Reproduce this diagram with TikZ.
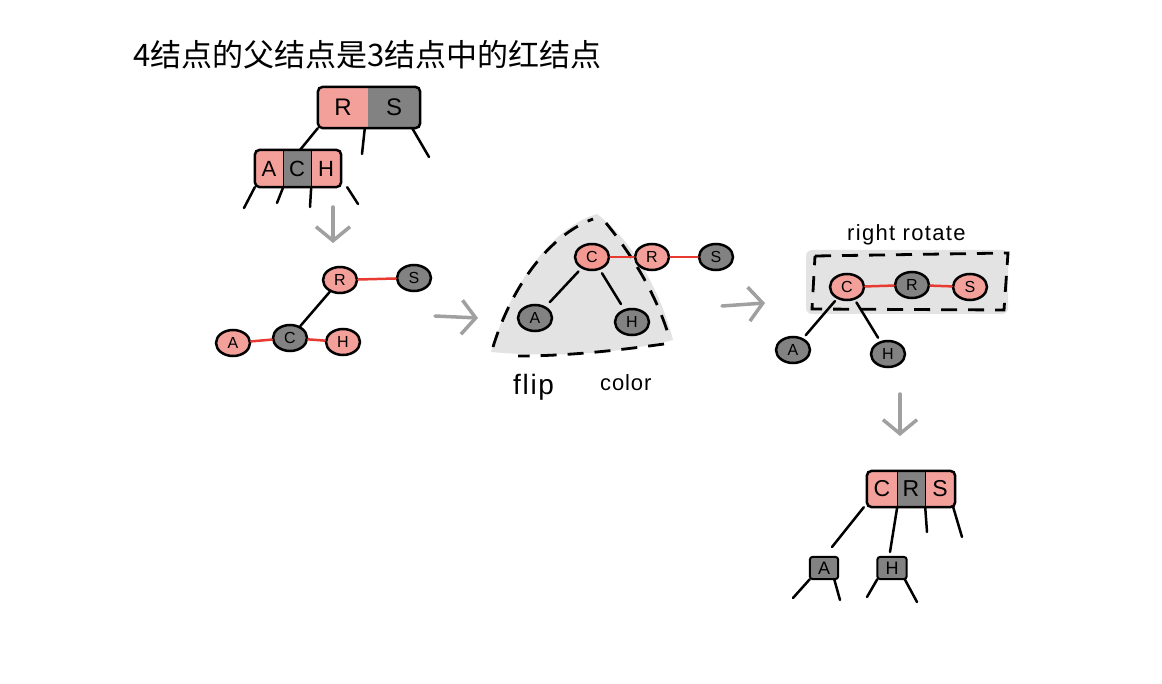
\documentclass[tikz,border=0pt]{standalone}
\usepackage{fontspec}
\setmainfont{Liberation Sans}
\newfontfamily\cjk{Noto Sans CJK SC}
\usetikzlibrary{shapes.geometric,arrows.meta}
\definecolor{pk}{RGB}{243,160,154}
\definecolor{gy}{RGB}{130,130,130}
\definecolor{rl}{RGB}{232,58,48}
\definecolor{bgshade}{RGB}{227,227,227}
\definecolor{ag}{RGB}{160,160,160}
\begin{document}
\begin{tikzpicture}[x=1pt,y=-1pt,
  cellp/.style={rectangle,fill=pk,inner sep=0pt,font=\fontsize{22}{22}\selectfont},
  cellg/.style={cellp,fill=gy},
  bx/.style={draw=black,line width=2.5pt,rounded corners=5pt},
  ep/.style={ellipse,draw=black,line width=2.5pt,fill=pk,minimum width=34pt,minimum height=26pt,inner sep=0pt,font=\fontsize{16}{16}\selectfont},
  eg/.style={ep,fill=gy},
  bl/.style={draw=black,line width=2.5pt,line cap=round},
  rd/.style={draw=rl,line width=2.5pt,line cap=round},
  garrow/.style={draw=ag,line width=3.5pt,line cap=round,-{Straight Barb[length=14pt,width=34pt]}},
  dsh/.style={draw=black,line width=2.8pt,dash pattern=on 16pt off 11pt},
  hand/.style={inner sep=0pt,anchor=west}]
\useasboundingbox (0,0) rectangle (1162,684);
\fill[white] (0,0) rectangle (1162,684);

% title
\node[anchor=west,inner sep=0pt] (title) at (133,55) {\cjk\fontsize{31}{34}\selectfont 4结点的父结点是3结点中的红结点};

% ---- top-left 2-3-4 tree ----
\node[cellp,minimum width=50pt,minimum height=41pt,font=\fontsize{24}{24}\selectfont] (tR) at (343,107.5) {R};
\node[cellg,minimum width=52pt,minimum height=41pt,font=\fontsize{24}{24}\selectfont] (tS) at (394,107.5) {S};
\draw[bx] (tR.north west) -- (tR.south west) -- (tS.south east) -- (tS.north east) -- cycle;
\node[cellp,minimum width=28pt,minimum height=37pt] (tA) at (269,168.5) {A};
\node[cellg,minimum width=28pt,minimum height=37pt] (tC) at (297,168.5) {C};
\node[cellp,minimum width=30pt,minimum height=37pt] (tH) at (326,168.5) {H};
\draw[bx] (tA.north west) rectangle (tH.south east);
\draw[line width=1pt] (tA.north east) -- (tA.south east);
\draw[line width=1pt] (tC.north east) -- (tC.south east);
\coordinate (l1a) at (300,150); \coordinate (l2) at (362,154); \coordinate (l3) at (429,157);
\draw[bl] (tR.south west) -- (l1a);
\draw[bl] ([xshift=-3pt]tS.south west) -- (l2);
\draw[bl] ([xshift=-8pt]tS.south east) -- (l3);
\coordinate (b1) at (244,208); \coordinate (b2) at (277,203); \coordinate (b3) at (310,207); \coordinate (b4) at (358,204);
\draw[bl] (tA.south west) -- (b1);
\draw[bl] (tA.south east) -- (b2);
\draw[bl] (tC.south east) -- (b3);
\draw[bl] ([xshift=6pt]tH.south east) -- (b4);

% arrow down
\coordinate (d1s) at (333,207); \coordinate (d1e) at (333,243);
\draw[garrow] (d1s) -- (d1e);

% ---- red-black tree ----
\node[ep] (R1) at (340,280) {R};
\node[eg] (S1) at (414,278) {S};
\node[eg] (C1) at (290,338) {C};
\node[ep] (A1) at (233,343) {A};
\node[ep] (H1) at (343,342) {H};
\draw[rd] (R1) -- (S1);
\draw[bl] (R1) -- (C1);
\draw[rd] (A1) -- (C1);
\draw[rd] (C1) -- (H1);

% arrow right 1
\coordinate (r1s) at (435,316); \coordinate (r1e) at (478,318);
\draw[garrow] (r1s) -- (r1e);

% ---- flip color ----
\fill[bgshade] (491,352) .. controls (512,280) and (555,226) .. (597,214)
  .. controls (632,240) and (660,290) .. (673,340)
  .. controls (620,353) and (560,358) .. (491,352) -- cycle;
\draw[dsh] (493,347) .. controls (512,285) and (550,235) .. (593,219);
\draw[dsh] (606,223) .. controls (632,255) and (657,295) .. (670,340);
\draw[dsh] (664,344) .. controls (620,350) and (570,356) .. (518,356);
\node[ep,fill=pk!95!red] (C2) at (592,257) {C};
\node[ep] (R2) at (652,257) {R};
\node[eg] (S2) at (716,257) {S};
\node[eg] (A2) at (535,318) {A};
\node[eg] (H2) at (632,322) {H};
\draw[rd] (C2) -- (R2);
\draw[rd] (R2) -- (S2);
\draw[bl,shorten <=4pt,shorten >=6pt] (C2) -- (A2);
\draw[bl,shorten <=4pt,shorten >=6pt] (C2) -- (H2);
\node[hand] (flip) at (513,387) {\fontsize{28}{28}\selectfont\addfontfeatures{LetterSpace=6}flip};
\node[hand] (color) at (600,383) {\fontsize{22}{22}\selectfont\addfontfeatures{LetterSpace=4}color};

% arrow right 2
\coordinate (r2s) at (722,306); \coordinate (r2e) at (765,303);
\draw[garrow] (r2s) -- (r2e);

% ---- right rotate ----
\node[hand] (rr) at (847,235) {\fontsize{22}{22}\selectfont\addfontfeatures{LetterSpace=6}right rotate};
\fill[bgshade,rounded corners=6pt] (806,250) rectangle (1008,314);
\draw[dsh] (815,256) -- (1008,253) -- (1004,310) -- (812,309) -- cycle;
\node[ep] (C3) at (847,287) {C};
\node[eg] (R3) at (912,285) {R};
\node[ep] (S3) at (970,287) {S};
\node[eg] (A3) at (793,350) {A};
\node[eg] (H3) at (888,354) {H};
\draw[rd] (C3) -- (R3);
\draw[rd] (R3) -- (S3);
\draw[bl,shorten <=3pt,shorten >=4pt] (C3) -- (A3);
\draw[bl,shorten <=3pt,shorten >=4pt] (C3) -- (H3);

% arrow down 2
\coordinate (d2s) at (900,394); \coordinate (d2e) at (900,436);
\draw[garrow] (d2s) -- (d2e);

% ---- bottom 2-3-4 tree ----
\node[cellp,minimum width=30pt,minimum height=36pt,font=\fontsize{23}{23}\selectfont] (bC) at (882,489) {C};
\node[cellg,minimum width=28pt,minimum height=36pt,font=\fontsize{23}{23}\selectfont] (bR) at (911,489) {R};
\node[cellp,minimum width=30pt,minimum height=36pt,font=\fontsize{23}{23}\selectfont] (bS) at (940,489) {S};
\draw[bx] (bC.north west) rectangle (bS.south east);
\draw[line width=1pt] (bC.north east) -- (bC.south east);
\draw[line width=1pt] (bR.north east) -- (bR.south east);
\node[cellg,minimum width=28pt,minimum height=22pt,font=\fontsize{18}{18}\selectfont] (bA) at (824,568) {A};
\node[cellg,minimum width=29pt,minimum height=22pt,font=\fontsize{18}{18}\selectfont] (bH) at (892,568) {H};
\draw[bx,rounded corners=3pt,line width=2pt] (bA.north west) rectangle (bA.south east);
\draw[bx,rounded corners=3pt,line width=2pt] (bH.north west) rectangle (bH.south east);
\coordinate (c1) at (832,547); \coordinate (c2) at (890,552);
\coordinate (c3) at (927,532); \coordinate (c4) at (962,537);
\draw[bl] ([xshift=-3pt]bC.south west) -- (c1);
\draw[bl] (bC.south east) -- (c2);
\draw[bl] (bR.south east) -- (c3);
\draw[bl] ([xshift=-2pt]bS.south east) -- (c4);
\coordinate (e1) at (793,598); \coordinate (e2) at (840,600); \coordinate (e3) at (867,597); \coordinate (e4) at (917,602);
\draw[bl] (bA.south west) -- (e1);
\draw[bl] ([xshift=-4pt]bA.south east) -- (e2);
\draw[bl] (bH.south west) -- (e3);
\draw[bl] ([xshift=-2pt]bH.south east) -- (e4);
\end{tikzpicture}
\end{document}
